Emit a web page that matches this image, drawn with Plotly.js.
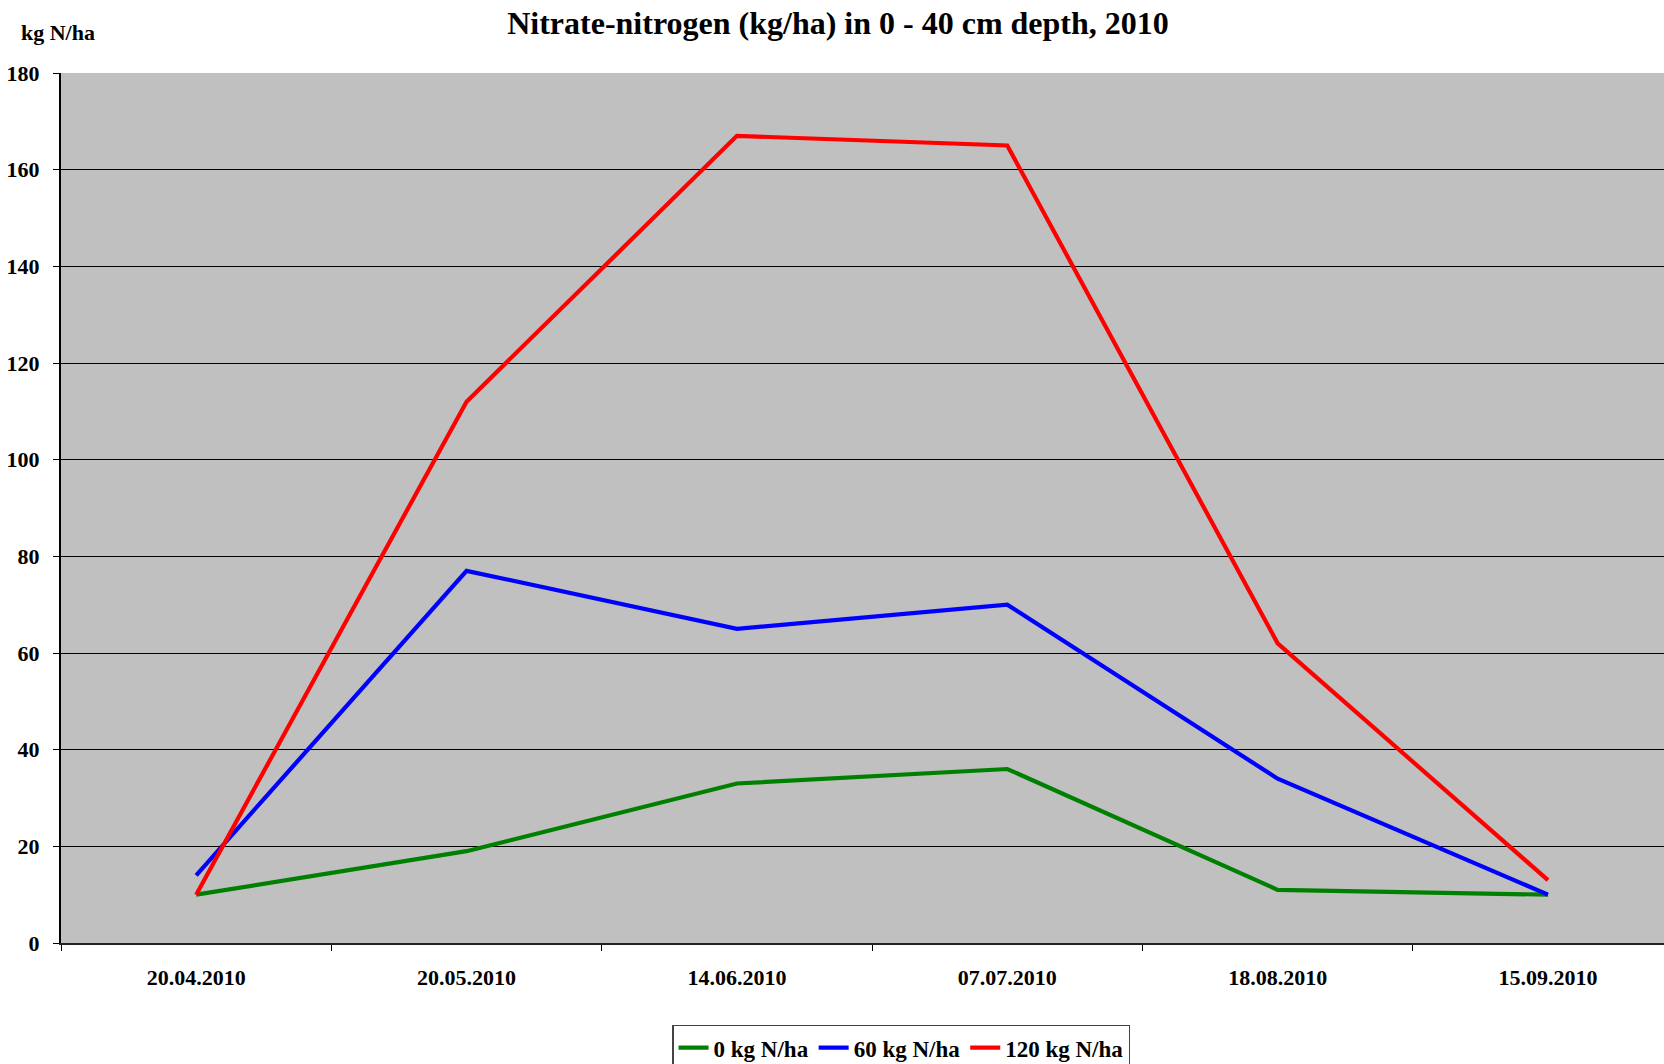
<!DOCTYPE html>
<html>
<head>
<meta charset="utf-8">
<script src="https://cdn.plot.ly/plotly-3.0.1.min.js"></script>
<style>html,body{margin:0;padding:0;overflow:hidden;background:#fff}</style>
</head>
<body>
<div id="chart" style="width:1664px;height:1064px"></div>
<script>
const dates = ["20.04.2010", "20.05.2010", "14.06.2010", "07.07.2010", "18.08.2010", "15.09.2010"];
const n0 = [10, 19, 33, 36, 11, 10];
const n60 = [14, 77, 65, 70, 34, 10];
const n120 = [10, 112, 167, 165, 62, 13];
const seriesNames = ["0 kg N/ha", "60 kg N/ha", "120 kg N/ha"];
const seriesColors = ["#008000", "#0000FF", "#FF0000"];
const seriesValues = [n0, n60, n120];

const font = "Liberation Serif, Times New Roman, serif";
const traces = seriesValues.map((v, i) => ({
  type: "scatter", mode: "lines", x: dates, y: v, name: seriesNames[i],
  line: {color: seriesColors[i], width: 4.2}
}));

const layout = {
  width: 1664, height: 1064,
  paper_bgcolor: "#ffffff", plot_bgcolor: "#C0C0C0",
  margin: {l: 60.5, r: 0, t: 73, b: 120.5},
  font: {family: font, color: "#000", size: 22, weight: "bold"},
  title: {text: "<b>Nitrate-nitrogen (kg/ha) in 0 - 40 cm depth, 2010</b>", x: 0.5036, xref: "container", xanchor: "center",
          y: 0.979, yref: "container", yanchor: "middle", font: {family: font, size: 32, color: "#000"}},
  xaxis: {type: "category", range: [-0.5, 5.429], tickson: "boundaries", ticks: "outside", ticklen: 6, tickcolor: "#000",
          showgrid: false, showline: true, linecolor: "#222", linewidth: 2, zeroline: false,
          tickfont: {family: font, size: 22, weight: "bold"}, ticklabelstandoff: 14},
  yaxis: {range: [0, 180], dtick: 20, ticks: "outside", ticklen: 6, tickcolor: "#000",
          showgrid: true, gridcolor: "#000", gridwidth: 1, showline: true, linecolor: "#000", linewidth: 2,
          zeroline: false, tickfont: {family: font, size: 22, weight: "bold"}, ticklabelstandoff: 9},
  showlegend: true,
  legend: {orientation: "h", xref: "container", yref: "container", x: 0.5415, xanchor: "center", y: 0.037, yanchor: "top",
           bgcolor: "#fff", bordercolor: "#444", borderwidth: 1.5, font: {family: font, size: 23, weight: "bold"},
           itemwidth: 30, tracegroupgap: 0},
  annotations: [{text: "<b>kg N/ha</b>", xref: "paper", yref: "paper", x: -0.0265, xanchor: "left", y: 1.047, yanchor: "middle",
                 showarrow: false, font: {family: font, size: 22, color: "#000"}}]
};

Plotly.newPlot("chart", traces, layout, {displayModeBar: false});
</script>
</body>
</html>
